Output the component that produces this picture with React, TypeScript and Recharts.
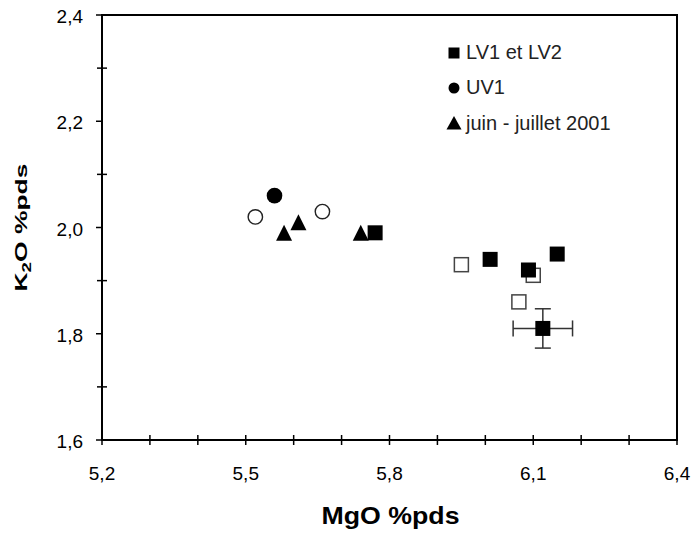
import { ScatterChart, Scatter, XAxis, YAxis, ErrorBar, ReferenceArea, Legend, Label } from 'recharts';

// MgO / K2O values
const lvX = [5.77, 6.01, 6.09, 6.15];
const lvY = [1.99, 1.94, 1.92, 1.95];
const lvErrX = [6.12];
const lvErrY = [1.81];
const lvErrDx = [0.062];
const lvErrDy = [0.037];
const lvOpenX = [5.95, 6.10, 6.07];
const lvOpenY = [1.93, 1.91, 1.86];
const uvX = [5.56];
const uvY = [2.06];
const uvOpenX = [5.52, 5.66];
const uvOpenY = [2.02, 2.03];
const juinX = [5.58, 5.61, 5.74];
const juinY = [1.99, 2.01, 1.99];

const xTicks = [5.2, 5.3, 5.4, 5.5, 5.6, 5.7, 5.8, 5.9, 6.0, 6.1, 6.2, 6.3, 6.4];
const xLabelTicks = [5.2, 5.5, 5.8, 6.1, 6.4];
const yTicks = [1.6, 1.7, 1.8, 1.9, 2.0, 2.1, 2.2, 2.3, 2.4];
const yLabelTicks = [1.6, 1.8, 2.0, 2.2, 2.4];

const legendItems = ['LV1 et LV2', 'UV1', 'juin - juillet 2001'];

const pts = (xs: number[], ys: number[]) => xs.map((x, i) => ({ x, y: ys[i] }));
const lvData = pts(lvX, lvY);
const lvErrData = lvErrX.map((x, i) => ({ x, y: lvErrY[i], ex: lvErrDx[i], ey: lvErrDy[i] }));
const lvOpenData = pts(lvOpenX, lvOpenY);
const uvData = pts(uvX, uvY);
const uvOpenData = pts(uvOpenX, uvOpenY);
const juinData = pts(juinX, juinY);

const FONT = '"Liberation Sans", Arial, sans-serif';
const fmt = (v: number) => v.toFixed(1).replace('.', ',');
const isIn = (list: number[], v: number) => list.some(t => Math.abs(t - v) < 1e-6);

const FilledSquare = (p: any) => <rect x={p.cx - 7.5} y={p.cy - 7.5} width={15} height={15} fill="#000" />;
const OpenSquare = (p: any) => <rect x={p.cx - 7} y={p.cy - 7} width={14} height={14} fill="#fff" stroke="#444" strokeWidth={1.5} />;
const FilledCircle = (p: any) => <circle cx={p.cx} cy={p.cy} r={7.8} fill="#000" />;
const OpenCircle = (p: any) => <circle cx={p.cx} cy={p.cy} r={7.2} fill="#fff" stroke="#222" strokeWidth={1.4} />;
const Triangle = (p: any) => (
    <polygon points={`${p.cx},${p.cy - 8} ${p.cx + 8},${p.cy + 8} ${p.cx - 8},${p.cy + 8}`} fill="#000" />
);

const XTick = (props: any) => {
    const { x, y, payload } = props;
    const v = payload.value;
    return <g>
        <line x1={x} x2={x} y1={y - 5} y2={y + 5} stroke="#000" strokeWidth={1.5} />
        {isIn(xLabelTicks, v) && <text x={x} y={y + 40} textAnchor="middle" fontSize={19} fontFamily={FONT} fill="#000">{fmt(v)}</text>}
    </g>;
};

const YTick = (props: any) => {
    const { x, y, payload } = props;
    const v = payload.value;
    const major = isIn(yLabelTicks, v);
    return <g>
        <line x1={major ? x - 6 : x - 5} x2={major ? x : x + 5} y1={y} y2={y} stroke="#000" strokeWidth={1.5} />
        {major && <text x={x - 19} y={y + 8} textAnchor="end" fontSize={19} fontFamily={FONT} fill="#000">{fmt(v)}</text>}
    </g>;
};

const legendMarker = (i: number) => {
    if (i === 0) return <rect x={1.5} y={1.5} width={11} height={11} fill="#000" />;
    if (i === 1) return <circle cx={7} cy={7} r={5.5} fill="#000" />;
    return <polygon points="7,0 14.5,13.5 -0.5,13.5" fill="#000" />;
};

const LegendBox = () => (
    <div style={{ fontFamily: FONT, fontSize: 20, color: '#222' }}>
        {legendItems.map((name, i) => (
            <div key={name} style={{ display: 'flex', alignItems: 'center', height: 35.3, whiteSpace: 'nowrap' }}>
                <svg width={14} height={14} style={{ overflow: 'visible' }}>{legendMarker(i)}</svg>
                <span style={{ marginLeft: 5 }}>{name}</span>
            </div>
        ))}
    </div>
);

export default function App() {
    return <div>
        <style>{'html, body { margin: 0; overflow: hidden; } .recharts-surface { overflow: visible; }'}</style>
        <ScatterChart width={694} height={533} margin={{ top: 15, right: 17, bottom: 0, left: 0 }}>
            <ReferenceArea x1={5.2} x2={6.4} y1={1.6} y2={2.4} fill="none" stroke="#000" strokeWidth={2} />
            <XAxis
                type="number"
                dataKey="x"
                domain={[5.2, 6.4]}
                ticks={xTicks}
                interval={0}
                height={93}
                tickSize={0}
                tickMargin={0}
                tickLine={false}
                axisLine={{ stroke: '#000', strokeWidth: 2 }}
                tick={<XTick />}
            >
                <Label content={({ viewBox }: any) => (
                    <text x={viewBox.x + viewBox.width / 2 + 1} y={viewBox.y + 84} textAnchor="middle" fontSize={24}
                        fontWeight="bold" fontFamily={FONT} fill="#000" textLength={138} lengthAdjust="spacingAndGlyphs">MgO %pds</text>
                )} />
            </XAxis>
            <YAxis
                type="number"
                dataKey="y"
                domain={[1.6, 2.4]}
                ticks={yTicks}
                interval={0}
                width={102}
                tickSize={0}
                tickMargin={0}
                tickLine={false}
                axisLine={{ stroke: '#000', strokeWidth: 2 }}
                tick={<YTick />}
            >
                <Label content={({ viewBox }: any) => {
                    const cx = 27;
                    const cy = viewBox.y + viewBox.height / 2;
                    return <text x={cx} y={cy} transform={`rotate(-90 ${cx} ${cy})`} textAnchor="middle" fontSize={17}
                        fontWeight="bold" fontFamily={FONT} fill="#000" textLength={128} lengthAdjust="spacingAndGlyphs">
                        K<tspan fontSize={12} dy={4}>2</tspan><tspan dy={-4}>O %pds</tspan>
                    </text>;
                }} />
            </YAxis>
            <Legend
                layout="vertical"
                align="center"
                verticalAlign="middle"
                content={<LegendBox />}
                wrapperStyle={{ top: 35, left: 447, width: 'auto', height: 'auto' }}
            />
            <Scatter data={lvOpenData} shape={OpenSquare} isAnimationActive={false} legendType="none" />
            <Scatter data={uvOpenData} shape={OpenCircle} isAnimationActive={false} legendType="none" />
            <Scatter name="LV1 et LV2" data={lvData} shape={FilledSquare} isAnimationActive={false} />
            <Scatter data={lvErrData} shape={FilledSquare} isAnimationActive={false} legendType="none">
                <ErrorBar dataKey="ex" direction="x" width={8} stroke="#333" strokeWidth={1.5} isAnimationActive={false} />
                <ErrorBar dataKey="ey" direction="y" width={8} stroke="#333" strokeWidth={1.5} isAnimationActive={false} />
            </Scatter>
            <Scatter name="UV1" data={uvData} shape={FilledCircle} isAnimationActive={false} />
            <Scatter name="juin - juillet 2001" data={juinData} shape={Triangle} isAnimationActive={false} />
        </ScatterChart>
    </div>;
}
